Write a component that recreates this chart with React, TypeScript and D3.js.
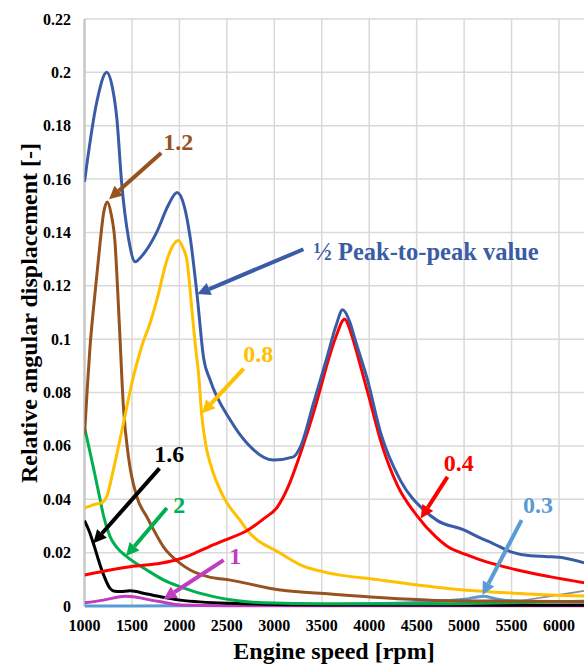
import React from "react";
import * as d3 from "d3";

type Pt = [number, number];

// rpm, relative angular displacement
const peakToPeak: Pt[] = [
  [1000, 0.159], [1130, 0.189], [1234, 0.2], [1290, 0.195], [1340, 0.183], [1393, 0.158],
  [1463, 0.138], [1535, 0.129], [1600, 0.131], [1760, 0.14], [1880, 0.15], [1975, 0.155],
  [2050, 0.15], [2114, 0.138], [2185, 0.117], [2255, 0.093], [2325, 0.0846], [2536, 0.0697],
  [2713, 0.061], [2990, 0.0547], [3202, 0.0559], [3276, 0.0597], [3413, 0.076], [3557, 0.0934],
  [3650, 0.105], [3720, 0.111], [3800, 0.106], [3850, 0.1], [3980, 0.085], [4120, 0.065],
  [4330, 0.047], [4575, 0.036], [4719, 0.032], [4997, 0.0285], [5176, 0.0254], [5300, 0.0235],
  [5493, 0.0203], [5700, 0.0188], [5880, 0.0185], [6054, 0.018], [6265, 0.0162],
];
const order04: Pt[] = [
  [1000, 0.0116], [1200, 0.013], [1480, 0.0147], [1800, 0.016], [2000, 0.0176], [2110, 0.019],
  [2300, 0.022], [2500, 0.025], [2700, 0.028], [2900, 0.033], [3030, 0.037], [3150, 0.045],
  [3240, 0.0535], [3330, 0.063], [3410, 0.072], [3490, 0.082], [3560, 0.091], [3650, 0.101],
  [3740, 0.1075], [3820, 0.101], [3900, 0.091], [4000, 0.078], [4120, 0.062], [4300, 0.045],
  [4500, 0.034], [4700, 0.026], [4830, 0.0222], [5000, 0.0195], [5180, 0.0172], [5560, 0.0135],
  [5900, 0.011], [6265, 0.0087],
];
const order08: Pt[] = [
  [1000, 0.0367], [1100, 0.038], [1196, 0.039], [1234, 0.041], [1304, 0.051], [1410, 0.0685],
  [1515, 0.086], [1600, 0.097], [1700, 0.107], [1762, 0.1146], [1868, 0.1296], [1930, 0.135],
  [1990, 0.137], [2040, 0.134], [2079, 0.1296], [2132, 0.111], [2167, 0.098], [2202, 0.087],
  [2237, 0.071], [2280, 0.06], [2325, 0.0535], [2463, 0.041], [2642, 0.032], [2713, 0.0285],
  [3064, 0.0198], [3300, 0.015], [3518, 0.0128], [4120, 0.0097], [4825, 0.0066], [5525, 0.0048],
  [6265, 0.0037],
];
const order12: Pt[] = [
  [1000, 0.064], [1030, 0.082], [1058, 0.097], [1093, 0.111], [1164, 0.136], [1200, 0.147],
  [1240, 0.1514], [1280, 0.147], [1322, 0.136], [1350, 0.118], [1375, 0.0996], [1410, 0.0746],
  [1463, 0.056], [1551, 0.041], [1657, 0.0334], [1692, 0.031], [1832, 0.0222], [2008, 0.016],
  [2114, 0.0135], [2300, 0.011], [2536, 0.0097], [3064, 0.006], [3592, 0.0045], [4100, 0.0032],
  [4647, 0.0022], [5500, 0.0018], [6265, 0.0016],
];
const order20: Pt[] = [
  [1000, 0.067], [1093, 0.052], [1164, 0.04], [1199, 0.034], [1269, 0.026], [1340, 0.022],
  [1445, 0.0185], [1657, 0.0135], [1832, 0.0098], [2008, 0.0072], [2360, 0.0035], [2888, 0.0012],
  [3500, 0.0008], [4500, 0.0008], [5500, 0.0012], [6265, 0.0018],
];
const order16: Pt[] = [
  [1000, 0.032], [1050, 0.028], [1093, 0.0235], [1182, 0.0135], [1269, 0.0066], [1320, 0.0055],
  [1375, 0.0054], [1480, 0.0057], [1657, 0.0045], [2008, 0.0022], [2536, 0.001], [3500, 0.0004],
  [6265, 0.0003],
];
const order10: Pt[] = [
  [1000, 0.0012], [1200, 0.0022], [1430, 0.0037], [1550, 0.0033], [1700, 0.0022], [1832, 0.0014],
  [2008, 0.0004], [2500, 0.0001], [6265, 0.0001],
];
const order03: Pt[] = [
  [1000, 0], [2000, 0.0001], [3000, 0.0003], [4000, 0.0008], [4650, 0.0016], [5000, 0.0025],
  [5211, 0.0037], [5300, 0.003], [5422, 0.0022], [5700, 0.0018], [6265, 0.0015],
];
const otherOrder: Pt[] = [
  [4800, 0], [5200, 0.0005], [5500, 0.0015], [5880, 0.0035], [6265, 0.0057],
];

const xTicks = [1000, 1500, 2000, 2500, 3000, 3500, 4000, 4500, 5000, 5500, 6000];
const yTicks = [0, 0.02, 0.04, 0.06, 0.08, 0.1, 0.12, 0.14, 0.16, 0.18, 0.2, 0.22];

const series = [
  { data: otherOrder, color: "#8c8c8c", w: 1.6 },
  { data: order03, color: "#5b9bd5", w: 3 },
  { data: order10, color: "#c03cc0", w: 3 },
  { data: order16, color: "#000000", w: 3 },
  { data: order20, color: "#00b050", w: 3 },
  { data: order12, color: "#96521f", w: 3 },
  { data: order08, color: "#ffc000", w: 3 },
  { data: order04, color: "#ff0000", w: 3 },
  { data: peakToPeak, color: "#3a5ca6", w: 3 },
];

// label, colour, tail, tip, label anchor (all in data units)
const notes = [
  { text: "1.2", color: "#96521f", tail: [1808, 0.1698], tip: [1259, 0.1524], at: [1829, 0.1708] },
  { text: "½ Peak-to-peak value", color: "#3a5ca6", tail: [3307, 0.1337], tip: [2188, 0.1169], at: [3413, 0.1296] },
  { text: "0.8", color: "#ffc000", tail: [2677, 0.089], tip: [2238, 0.0722], at: [2674, 0.0914] },
  { text: "1.6", color: "#000000", tail: [1790, 0.0516], tip: [1093, 0.0235], at: [1734, 0.0539] },
  { text: "2", color: "#00b050", tail: [1868, 0.0367], tip: [1438, 0.0187], at: [1935, 0.0349] },
  { text: "1", color: "#c03cc0", tail: [2466, 0.0172], tip: [1832, 0.0025], at: [2526, 0.0157] },
  { text: "0.4", color: "#ff0000", tail: [4825, 0.0484], tip: [4543, 0.0328], at: [4786, 0.0506] },
  { text: "0.3", color: "#5b9bd5", tail: [5606, 0.0322], tip: [5194, 0.0041], at: [5620, 0.0347] },
];

const W = 584;
const H = 666;
const FONT = "'Times New Roman', 'Liberation Serif', serif";

export default function App() {
  const x = d3.scaleLinear().domain([1000, 6000]).range([84.5, 559]);
  const y = d3.scaleLinear().domain([0, 0.22]).range([606, 19]);
  const left = x(1000);
  const right = W;
  const line = d3
    .line<Pt>()
    .x((d) => x(d[0]))
    .y((d) => y(d[1]))
    .curve(d3.curveMonotoneX);

  const gridX = d3.range(1000, 6300, 500);

  return (
    <svg
      width={W}
      height={H}
      style={{ position: "absolute", left: 0, top: 0, background: "#fff" }}
      fontFamily={FONT}
      fontWeight="bold"
    >
      <defs>
        <clipPath id="plot">
          <rect x={left} y={0} width={right - left} height={y(0) + 3} />
        </clipPath>
      </defs>

      {/* grid */}
      {yTicks.map((t) => (
        <line key={"gy" + t} x1={left} x2={right} y1={y(t)} y2={y(t)} stroke="#d9d9d9" strokeWidth={1.5} />
      ))}
      {gridX.map((t) => (
        <line key={"gx" + t} x1={x(t)} x2={x(t)} y1={y(0.22)} y2={y(0)} stroke="#d9d9d9" strokeWidth={1.5} />
      ))}
      <line x1={left} x2={left} y1={y(0.22)} y2={y(0)} stroke="#c8c8c8" strokeWidth={2.5} />

      {/* tick labels */}
      {yTicks.map((t) => (
        <text key={"ty" + t} x={71} y={y(t) + 5.5} textAnchor="end" fontSize={16}>
          {d3.format("~g")(t)}
        </text>
      ))}
      {xTicks.map((t) => (
        <text key={"tx" + t} x={x(t)} y={631} textAnchor="middle" fontSize={16}>
          {t}
        </text>
      ))}

      {/* series */}
      <g clipPath="url(#plot)">
        {series.map((s, i) => (
          <path key={i} d={line(s.data) || ""} fill="none" stroke={s.color} strokeWidth={s.w} strokeLinejoin="round" />
        ))}
      </g>

      {/* annotations */}
      {notes.map((n) => {
        const x1 = x(n.tail[0]);
        const y1 = y(n.tail[1]);
        const x2 = x(n.tip[0]);
        const y2 = y(n.tip[1]);
        const a = Math.atan2(y2 - y1, x2 - x1);
        const len = 13;
        const hw = 6.5;
        const bx = x2 - len * Math.cos(a);
        const by = y2 - len * Math.sin(a);
        const px = -Math.sin(a) * hw;
        const py = Math.cos(a) * hw;
        return (
          <g key={n.text}>
            <line x1={x1} y1={y1} x2={bx} y2={by} stroke={n.color} strokeWidth={4} />
            <polygon points={`${x2},${y2} ${bx + px},${by + py} ${bx - px},${by - py}`} fill={n.color} />
            <text x={x(n.at[0])} y={y(n.at[1])} fill={n.color} fontSize={n.text.length > 4 ? 24.5 : 24}>
              {n.text}
            </text>
          </g>
        );
      })}

      {/* axis titles */}
      <text x={334} y={659} textAnchor="middle" fontSize={24}>
        Engine speed [rpm]
      </text>
      <text transform={`translate(37,313) rotate(-90)`} textAnchor="middle" fontSize={24}>
        Relative angular displacement [-]
      </text>
    </svg>
  );
}
